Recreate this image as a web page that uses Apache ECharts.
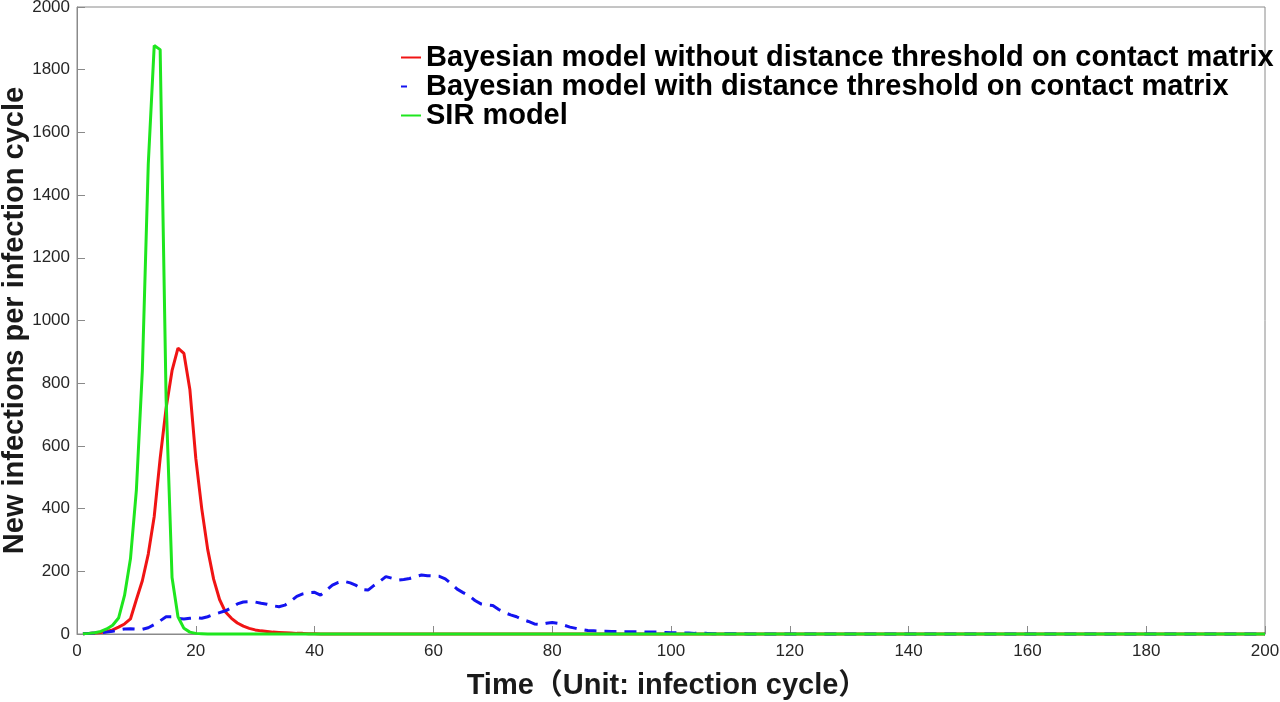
<!DOCTYPE html>
<html>
<head>
<meta charset="utf-8">
<title>New infections per infection cycle</title>
<script src="https://cdn.jsdelivr.net/npm/echarts@6/dist/echarts.min.js"></script>
<style>
  html, body { margin: 0; padding: 0; background: #fff; }
  #main { width: 1280px; height: 702px; }
</style>
</head>
<body>
<div id="main"></div>
<script>
// 数据 (time = 1..200 infection cycles)
const seriesNames = [
  'Bayesian model without distance threshold on contact matrix',
  'Bayesian model with distance threshold on contact matrix',
  'SIR model'
]
const xTicks = [0, 20, 40, 60, 80, 100, 120, 140, 160, 180, 200]
const yTicks = [0, 200, 400, 600, 800, 1000, 1200, 1400, 1600, 1800, 2000]

const bayesNoThreshold = [
  1, 2, 3, 5, 8, 13, 22, 32, 48, 110, 170, 255, 375, 560, 720, 840, 912, 895, 780, 560,
  400, 270, 175, 110, 70, 50, 35, 25, 18, 13, 10, 8, 6, 5, 4, 3, 2, 2, 1, 1,
  0, 0, 0, 0, 0, 0, 0, 0, 0, 0, 0, 0, 0, 0, 0, 0, 0, 0, 0, 0,
  0, 0, 0, 0, 0, 0, 0, 0, 0, 0, 0, 0, 0, 0, 0, 0, 0, 0, 0, 0,
  0, 0, 0, 0, 0, 0, 0, 0, 0, 0, 0, 0, 0, 0, 0, 0, 0, 0, 0, 0,
  0, 0, 0, 0, 0, 0, 0, 0, 0, 0, 0, 0, 0, 0, 0, 0, 0, 0, 0, 0,
  0, 0, 0, 0, 0, 0, 0, 0, 0, 0, 0, 0, 0, 0, 0, 0, 0, 0, 0, 0,
  0, 0, 0, 0, 0, 0, 0, 0, 0, 0, 0, 0, 0, 0, 0, 0, 0, 0, 0, 0,
  0, 0, 0, 0, 0, 0, 0, 0, 0, 0, 0, 0, 0, 0, 0, 0, 0, 0, 0, 0,
  0, 0, 0, 0, 0, 0, 0, 0, 0, 0, 0, 0, 0, 0, 0, 0, 0, 0, 0, 0
]
const bayesThreshold = [
  1, 2, 3, 4, 6, 9, 13, 16, 17, 16, 15, 20, 30, 42, 55, 55, 50, 48, 50, 52,
  50, 55, 62, 68, 74, 84, 96, 102, 103, 102, 98, 95, 90, 87, 92, 105, 120, 128, 132, 133,
  124, 140, 156, 165, 168, 163, 155, 142, 140, 155, 168, 183, 178, 172, 174, 177, 183, 188, 186, 185,
  184, 176, 160, 143, 132, 122, 107, 96, 93, 91, 78, 68, 61, 55, 46, 40, 32, 30, 34, 37,
  34, 28, 22, 18, 14, 11, 10, 9, 9, 8, 8, 7, 7, 7, 7, 6, 6, 6, 5, 4,
  4, 3, 3, 2, 2, 2, 1, 1, 1, 1, 1, 1, 0, 0, 0, 0, 0, 0, 0, 0,
  0, 0, 0, 0, 0, 0, 0, 0, 0, 0, 0, 0, 0, 0, 0, 0, 0, 0, 0, 0,
  0, 0, 0, 0, 0, 0, 0, 0, 0, 0, 0, 0, 0, 0, 0, 0, 0, 0, 0, 0,
  0, 0, 0, 0, 0, 0, 0, 0, 0, 0, 0, 0, 0, 0, 0, 0, 0, 0, 0, 0,
  0, 0, 0, 0, 0, 0, 0, 0, 0, 0, 0, 0, 0, 0, 0, 0, 0, 0, 0, 0
]
const sirModel = [
  1, 2, 4, 8, 16, 28, 51, 123, 240, 460, 840, 1500, 1877, 1864, 750, 180, 55, 18, 6, 2,
  1, 0, 0, 0, 0, 0, 0, 0, 0, 0, 0, 0, 0, 0, 0, 0, 0, 0, 0, 0,
  0, 0, 0, 0, 0, 0, 0, 0, 0, 0, 0, 0, 0, 0, 0, 0, 0, 0, 0, 0,
  0, 0, 0, 0, 0, 0, 0, 0, 0, 0, 0, 0, 0, 0, 0, 0, 0, 0, 0, 0,
  0, 0, 0, 0, 0, 0, 0, 0, 0, 0, 0, 0, 0, 0, 0, 0, 0, 0, 0, 0,
  0, 0, 0, 0, 0, 0, 0, 0, 0, 0, 0, 0, 0, 0, 0, 0, 0, 0, 0, 0,
  0, 0, 0, 0, 0, 0, 0, 0, 0, 0, 0, 0, 0, 0, 0, 0, 0, 0, 0, 0,
  0, 0, 0, 0, 0, 0, 0, 0, 0, 0, 0, 0, 0, 0, 0, 0, 0, 0, 0, 0,
  0, 0, 0, 0, 0, 0, 0, 0, 0, 0, 0, 0, 0, 0, 0, 0, 0, 0, 0, 0,
  0, 0, 0, 0, 0, 0, 0, 0, 0, 0, 0, 0, 0, 0, 0, 0, 0, 0, 0, 0
]

// [time, value] pairs, time starts at cycle 1
const toPairs = arr => arr.map((v, i) => [i + 1, v])

let myChart = echarts.init(document.getElementById('main'))

const axisGray = '#8a8a8a'
const labelFont = { color: '#262626', fontSize: 17, fontFamily: 'Liberation Sans, Arial, sans-serif' }
const nameFont = { color: '#1a1a1a', fontSize: 29, fontWeight: 'bold', fontFamily: 'Liberation Sans, Arial, Noto Sans CJK SC, sans-serif' }

let option = {
  backgroundColor: '#fff',
  animation: false,
  grid: {
    left: 77,
    right: 15,
    top: 7,
    bottom: 68,
    containLabel: false,
    outerBoundsMode: 'none',
    show: true,
    borderColor: axisGray,
    borderWidth: 1
  },
  legend: {
    orient: 'vertical',
    left: 400,
    top: 43,
    padding: 0,
    itemWidth: 20,
    itemHeight: 14,
    itemGap: 0,
    itemStyle: { opacity: 0 },
    data: [
      { name: seriesNames[0] },
      { name: seriesNames[1], lineStyle: { type: [6, 30] } },
      { name: seriesNames[2] }
    ],
    textStyle: {
      color: '#000',
      fontSize: 29,
      fontWeight: 'bold',
      lineHeight: 28,
      fontFamily: 'Liberation Sans, Arial, sans-serif'
    }
  },
  xAxis: {
    type: 'value',
    min: xTicks[0],
    max: xTicks[xTicks.length - 1],
    interval: xTicks[1] - xTicks[0],
    name: 'Time（Unit: infection cycle）',
    nameLocation: 'middle',
    nameGap: 37,
    nameMoveOverlap: false,
    nameTextStyle: Object.assign({ padding: [0, 8, 0, 0] }, nameFont),
    axisLine: { lineStyle: { color: axisGray, width: 1 } },
    axisTick: { inside: true, length: 8, lineStyle: { color: axisGray } },
    axisLabel: Object.assign({ margin: 9 }, labelFont),
    splitLine: { show: false }
  },
  yAxis: {
    type: 'value',
    min: yTicks[0],
    max: yTicks[yTicks.length - 1],
    interval: yTicks[1] - yTicks[0],
    name: 'New infections per infection cycle',
    nameLocation: 'middle',
    nameGap: 47,
    nameMoveOverlap: false,
    nameTextStyle: nameFont,
    axisLine: { show: true, lineStyle: { color: axisGray, width: 1 } },
    axisTick: { show: true, inside: true, length: 8, lineStyle: { color: axisGray } },
    axisLabel: Object.assign({ margin: 7, formatter: v => String(v) }, labelFont),
    splitLine: { show: false }
  },
  series: [
    {
      name: seriesNames[0],
      type: 'line',
      symbol: 'none',
      clip: false,
      lineStyle: { color: '#f01414', width: 3 },
      itemStyle: { color: '#f01414' },
      data: toPairs(bayesNoThreshold)
    },
    {
      name: seriesNames[1],
      type: 'line',
      symbol: 'none',
      clip: false,
      lineStyle: { color: '#1414f0', width: 3, type: [12, 8] },
      itemStyle: { color: '#1414f0' },
      data: toPairs(bayesThreshold)
    },
    {
      name: seriesNames[2],
      type: 'line',
      symbol: 'none',
      clip: false,
      lineStyle: { color: '#1ee61e', width: 3 },
      itemStyle: { color: '#1ee61e' },
      data: toPairs(sirModel)
    }
  ]
}

myChart.setOption(option)
</script>
</body>
</html>
